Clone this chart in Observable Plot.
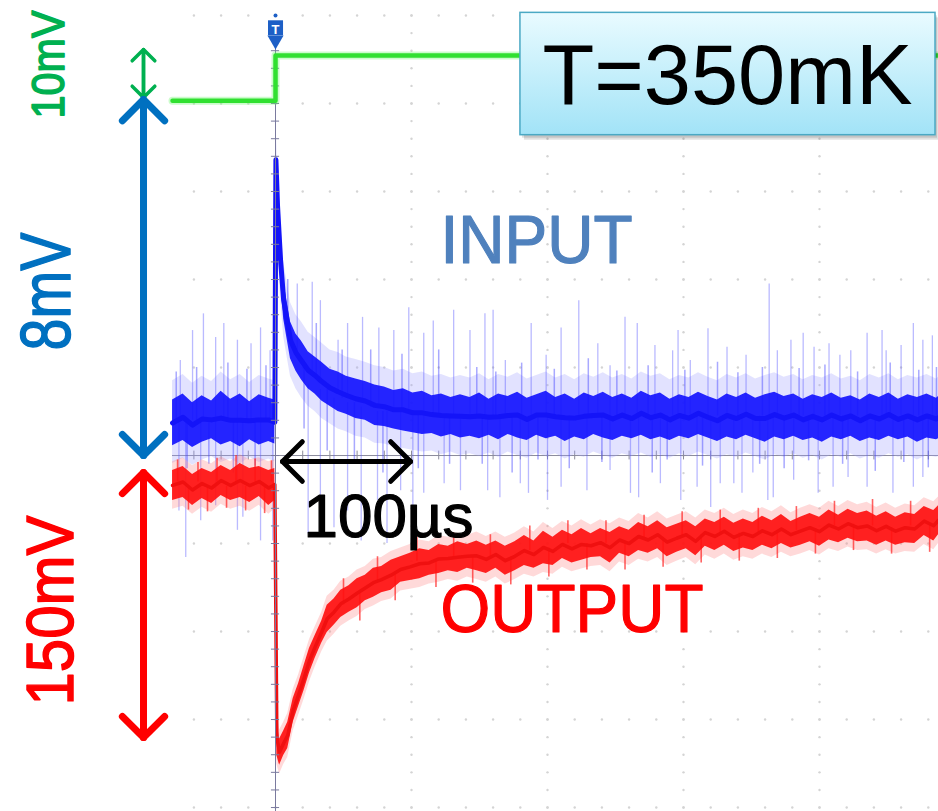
<!DOCTYPE html>
<html><head><meta charset="utf-8">
<script src="https://cdn.jsdelivr.net/npm/d3@7"></script>
<script src="https://cdn.jsdelivr.net/npm/@observablehq/plot@0.6"></script>
<style>html,body{margin:0;padding:0;background:#fff;} svg{display:block;}</style>
</head><body><div id="chart"></div>
<script>
// time in µs (100 µs / div), vertical in screen divisions
const greenT = [-75.74, 0, 0, 487.5];
const greenV = [4.03, 4.03, 4.545, 4.545];

// INPUT trace: [t, core top, core bottom]
const blueTrace = [
[-75.7,0.63,0.11],[-68,0.70,0.17],[-61,0.60,0.09],[-54,0.68,0.15],[-47,0.62,0.19],[-40,0.73,0.12],[-33,0.64,0.16],[-26,0.70,0.10],[-19,0.61,0.18],[-12,0.69,0.12],[-5,0.65,0.16],[-0.5,0.63,0.13],
[0.3,3.6,3.12],[1.5,3.05,2.62],[3.7,2.45,2.0],[6,1.98,1.55],[11,1.52,1.10],[15,1.38,0.96],[19,1.30,0.86],[24,1.18,0.76],[29,1.12,0.70],[34,1.06,0.62],[40,0.98,0.56],[46,0.95,0.50],[52,0.90,0.47],[59,0.87,0.42],[66,0.84,0.40],[73,0.80,0.34],[80,0.78,0.33],[87,0.74,0.30],[94,0.76,0.28],[101,0.71,0.26],[108,0.73,0.24],[115,0.68,0.25],[122,0.70,0.21],[129,0.66,0.24],[136,0.69,0.20],
[143,0.66,0.22],[150,0.71,0.19],[157,0.64,0.23],[164,0.70,0.18],[171,0.67,0.24],[178,0.72,0.20],[185,0.65,0.17],[192,0.69,0.23],[199,0.73,0.19],[206,0.66,0.22],[213,0.70,0.16],[220,0.64,0.21],[227,0.71,0.18],[234,0.67,0.24],[241,0.72,0.20],[248,0.66,0.17],[255,0.70,0.22],[262,0.65,0.19],[269,0.73,0.23],[276,0.68,0.18],[283,0.71,0.21],[290,0.64,0.17],[297,0.69,0.22],[304,0.66,0.19],[311,0.72,0.24],[318,0.67,0.20],[325,0.63,0.16],[332,0.70,0.21],[339,0.66,0.18],[346,0.71,0.23],[353,0.65,0.19],[360,0.69,0.15],[367,0.72,0.21],[374,0.67,0.18],[381,0.70,0.22],[388,0.64,0.17],[395,0.69,0.20],[402,0.66,0.15],[409,0.71,0.21],[416,0.65,0.18],[423,0.68,0.22],[430,0.63,0.16],[437,0.70,0.20],[444,0.66,0.17],[451,0.71,0.22],[458,0.64,0.18],[465,0.69,0.21],[472,0.66,0.15],[479,0.70,0.20],[486,0.65,0.18],[487.5,0.67,0.19]
];

// INPUT noise spikes (long): [t, from, to]
const blueSpikes = [
[-70,0.4,1.08],[-61,0.4,1.42],[-53,0.4,1.61],[-44,0.4,1.34],[-38,0.4,1.50],[-28,0.4,1.31],[-18,0.4,1.27],[-11,0.4,1.45],[-4,0.4,1.19],
[-71,-0.63,0.4],[-66,-1.16,0.4],[-55,-0.74,0.4],[-44,-0.57,0.4],[-28,-0.85,0.4],[-24,-0.70,0.4],[-11,-0.97,0.4],[-2,-0.97,0.4],
[16,1.2,1.95],[27,0.95,1.97],[33,0.85,1.76],[46,0.7,1.31],[53,0.68,1.50],[64,0.62,1.57],[76,0.57,1.45],[87,0.52,1.42],[98,0.5,1.68],[109,0.48,1.39],[116,0.45,1.53],[131,0.45,1.65],[143,0.45,1.42],[154,0.45,1.61],[160,0.45,1.65],[169,0.45,1.08],[188,0.45,1.50],[199,0.45,1.14],[210,0.45,1.45],[223,0.45,1.76],[237,0.45,1.27],[246,0.45,1.02],[257,0.45,1.57],[266,0.45,1.50],[279,0.45,1.25],[292,0.45,1.19],[296,0.45,1.42],[305,0.45,1.08],[318,0.45,1.44],[332,0.45,1.23],[346,0.45,1.14],[363,0.45,1.95],[369,0.45,1.19],[379,0.45,1.31],[388,0.45,1.39],[396,0.45,1.23],[407,0.45,1.27],[415,0.45,1.14],[423,0.45,1.19],[435,0.45,1.39],[446,0.45,1.42],[449,0.45,1.19],[460,0.45,1.25],[469,0.45,1.50],[476,0.45,1.31],[483,0.45,1.36],
[24,-0.89,0.8],[33,-0.70,0.75],[43,-0.82,0.65],[53,-0.63,0.6],[63,-0.97,0.55],[75,-0.51,0.5],[82,-1.00,0.5],[92,-0.40,0.5],[101,-0.93,0.45],[109,-0.43,0.45],[124,-0.32,0.45],[136,-0.40,0.45],[156,-0.40,0.45],[165,-0.48,0.45],[180,-0.32,0.45],[186,-0.43,0.45],[200,-0.51,0.45],[210,-0.36,0.45],[229,-0.40,0.45],[246,-0.17,0.45],[261,-0.43,0.45],[267,-0.48,0.45],[283,-0.32,0.45],[298,-0.51,0.45],[310,-0.36,0.45],[320,-0.59,0.45],[327,-0.32,0.45],[337,-0.32,0.45],[343,-0.43,0.45],[351,-0.20,0.45],[362,-0.51,0.45],[366,-0.48,0.45],[381,-0.28,0.45],[399,-0.43,0.45],[410,-0.36,0.45],[421,-0.25,0.45],[435,-0.36,0.45],[454,-0.43,0.45],[469,-0.36,0.45],[476,-0.25,0.45]
];

// INPUT noise spikes (short): [t, from, to]
const blueShortSpikes = [
[-73,0.4,0.95],[-65,0.4,-0.15],[-58,0.4,1.0],[-49,0.4,-0.1],[-35,0.4,1.05],[-31,0.4,-0.2],[-21,0.4,0.98],[-15,0.4,-0.12],[-7,0.4,1.02],
[9,1.4,2.0],[21,1.0,0.3],[30,0.9,1.5],[38,0.75,0.05],[49,0.65,1.2],[58,0.6,-0.1],[70,0.55,1.2],[79,0.5,-0.2],[93,0.5,1.15],[105,0.48,-0.15],[120,0.45,1.2],[128,0.45,-0.1],
[148,0.45,1.0],[152,0.45,-0.1],[162,0.45,0.95],[174,0.45,-0.2],[181,0.45,1.05],[193,0.45,-0.05],[205,0.45,0.98],[216,0.45,-0.15],[230,0.45,1.1],[240,0.45,-0.08],[251,0.45,0.96],[274,0.45,1.02],[277,0.45,-0.2],[288,0.45,-0.05],[301,0.45,0.97],[314,0.45,-0.12],[325,0.45,1.06],[340,0.45,0.94],[356,0.45,-0.1],[358,0.45,1.0],[374,0.45,-0.15],[385,0.45,0.99],[392,0.45,-0.06],[404,0.45,1.03],[417,0.45,-0.1],[428,0.45,0.95],[441,0.45,-0.18],[452,0.45,1.05],[462,0.45,-0.08],[473,0.45,0.97],[480,0.45,-0.14],[486,0.45,1.0]
];

// OUTPUT trace: [t, core top, core bottom]
const redTrace = [
[-75.7,-0.17,-0.51],[-68,-0.125,-0.477],[-61,-0.216,-0.568],[-54,-0.148,-0.489],[-47,-0.193,-0.545],[-40,-0.114,-0.455],[-33,-0.17,-0.511],[-26,-0.091,-0.477],[-19,-0.148,-0.534],[-12,-0.125,-0.466],[-5,-0.17,-0.568],[-0.5,-0.148,-0.511],
[1,-3.01,-3.41],[3,-3.22,-3.52],[6,-3.13,-3.41],[9,-3.03,-3.33],[13,-2.76,-3.03],[17,-2.59,-2.85],[21,-2.39,-2.67],[25,-2.19,-2.47],[29,-2.05,-2.31],[34,-1.88,-2.13],[38,-1.70,-2.01],[43,-1.63,-1.93],[48,-1.53,-1.84],[54,-1.48,-1.78],[60,-1.40,-1.73],[66,-1.36,-1.65],[72,-1.28,-1.61],[78,-1.26,-1.56],[85,-1.19,-1.53],[92,-1.15,-1.44],[99,-1.11,-1.42],[106,-1.06,-1.40],[113,-1.08,-1.36],[120,-1.01,-1.34],[127,-1.03,-1.31],[134,-0.98,-1.33],[141,-1.01,-1.28],[148,-0.97,-1.31],[155,-1.02,-1.34],[162,-0.97,-1.28],[169,-1.03,-1.36],[176,-0.98,-1.31],[183,-0.91,-1.25],[190,-0.97,-1.28],[197,-0.86,-1.23],[204,-0.93,-1.25],[211,-0.85,-1.17],[218,-0.90,-1.22],[225,-0.83,-1.19],[232,-0.89,-1.16],[239,-0.83,-1.15],[246,-0.875,-1.22],[253,-0.81,-1.11],[260,-0.85,-1.15],[267,-0.76,-1.08],[274,-0.81,-1.11],[281,-0.74,-1.06],[288,-0.82,-1.15],[295,-0.78,-1.10],[302,-0.74,-1.06],[309,-0.81,-1.14],[316,-0.72,-1.03],[323,-0.76,-1.08],[330,-0.70,-1.02],[337,-0.77,-1.09],[344,-0.72,-1.05],[351,-0.76,-1.08],[358,-0.69,-1.02],[365,-0.74,-1.06],[372,-0.67,-1.00],[379,-0.75,-1.05],[386,-0.70,-1.02],[393,-0.66,-0.98],[400,-0.70,-1.03],[407,-0.62,-0.96],[414,-0.68,-0.99],[421,-0.61,-0.94],[428,-0.66,-0.98],[435,-0.63,-0.97],[442,-0.69,-1.02],[449,-0.64,-0.97],[456,-0.70,-1.02],[463,-0.65,-0.99],[470,-0.67,-1.00],[477,-0.58,-0.91],[484,-0.625,-0.97],[487.5,-0.57,-0.90]
];

// OUTPUT noise spikes: [t, from, to]
const redSpikes = [
[-72,-0.3,-0.05],[-64,-0.35,-0.62],[-57,-0.3,-0.08],[-50,-0.35,-0.64],[-43,-0.3,-0.03],[-36,-0.35,-0.6],[-29,-0.3,0.0],[-22,-0.35,-0.63],[-15,-0.3,-0.04],[-8,-0.35,-0.66],[-3,-0.3,-0.06],
[50,-1.7,-1.4],[62,-1.55,-1.88],[75,-1.42,-1.15],[88,-1.35,-1.65],
[104,-1.2,-0.93],[118,-1.2,-1.5],[131,-1.15,-0.88],[145,-1.15,-1.45],[158,-1.15,-0.9],[173,-1.15,-1.47],[187,-1.08,-0.8],[201,-1.05,-1.38],[215,-1.0,-0.74],[229,-1.0,-1.3],[243,-1.0,-0.74],[257,-0.97,-1.3],[271,-0.95,-0.68],[285,-0.93,-1.27],[299,-0.92,-0.64],[313,-0.9,-1.22],[327,-0.9,-0.62],[341,-0.88,-1.2],[355,-0.88,-0.6],[369,-0.86,-1.17],[383,-0.85,-0.58],[397,-0.83,-1.12],[411,-0.8,-0.52],[425,-0.78,-1.08],[439,-0.8,-0.5],[453,-0.82,-1.12],[467,-0.8,-0.52],[481,-0.78,-1.1]
];

const gridT = [100, 200, 300, 400];
const gridV = [-4, -3, -2, -1, 1, 2, 3, 4, 5];

// annotation labels
const labels = {ten: "10mV", eight: "8mV", oneFifty: "150mV", input: "INPUT", output: "OUTPUT", time: "100µs", temp: "T=350mK"};

const font = "'Liberation Sans', Arial, Helvetica, sans-serif";
const narrow = "'Liberation Sans Narrow', 'Arial Narrow', 'Liberation Sans', Arial, sans-serif";
const row = d => ({t: d[0], hi: d[1], lo: d[2], mid: (d[1] + d[2]) / 2});
const blueData = blueTrace.map(row);
const redData = redTrace.map(row);
const toRule = d => ({t: d[0], a: d[1], b: d[2]});
const spikeData = blueSpikes.map(toRule);
const shortSpikeData = blueShortSpikes.map(toRule);
const redSpikeData = redSpikes.map(toRule);
const greenData = greenT.map((t, i) => ({t, v: greenV[i]}));

const minorV = d3.range(-4, 5.01, 0.2).map(v => +v.toFixed(2));
const minorT = d3.range(-60, 488, 20);
const gridDots = [
  ...d3.cross(gridT, minorV).map(([t, v]) => ({t, v})),
  ...d3.cross(minorT, gridV).map(([t, v]) => ({t, v}))
];
const axisTicksV = minorV.filter(v => v <= 4.6);
const axisTicksT = minorT;

const chart = Plot.plot({
  width: 938, height: 811,
  marginLeft: 172, marginRight: 0, marginTop: 0, marginBottom: 0,
  x: {domain: [-75.74, 487.5], axis: null},
  y: {domain: [-4.045, 5.1705], axis: null},
  style: {background: "white", overflow: "visible"},
  marks: [
    Plot.dot(gridDots, {x: "t", y: "v", r: 1.2, fill: "#d4d4d4", stroke: null}),
    Plot.ruleY([0], {stroke: "#8c8c9c", strokeWidth: 1}),
    Plot.ruleX(axisTicksT, {x: d => d, y1: -0.05, y2: 0.05, stroke: "#8c8c9c"}),
    // INPUT haze & spikes
    Plot.areaY(blueData, {x: "t", y1: d => d.lo - 0.2, y2: d => d.hi + 0.22, fill: "#a0a0ff", fillOpacity: 0.3}),
    Plot.ruleX(spikeData, {x: "t", y1: "a", y2: "b", stroke: "#5a5aff", strokeOpacity: 0.42, strokeWidth: 1.3}),
    Plot.ruleX(shortSpikeData, {x: "t", y1: "a", y2: "b", stroke: "#4040ff", strokeOpacity: 0.45, strokeWidth: 1.5}),
    // OUTPUT
    Plot.areaY(redData, {x: "t", y1: d => d.lo - 0.1, y2: d => d.hi + 0.1, fill: "#ff8080", fillOpacity: 0.3}),
    Plot.ruleX(redSpikeData, {x: "t", y1: "a", y2: "b", stroke: "#ff2020", strokeOpacity: 0.7, strokeWidth: 1.6}),
    Plot.areaY(redData, {x: "t", y1: "lo", y2: "hi", fill: "#ff1010", fillOpacity: 0.92}),
    Plot.line(redData, {x: "t", y: "mid", stroke: "#f01010", strokeWidth: 3.5}),
    // INPUT core
    Plot.areaY(blueData, {x: "t", y1: "lo", y2: "hi", fill: "#1414ff", fillOpacity: 0.92}),
    Plot.line(blueData, {x: "t", y: "mid", stroke: "#1414f8", strokeWidth: 5}),
    // trigger / centre axis
    Plot.ruleX([0], {y1: -4.045, y2: 4.65, stroke: "#7a7a9e", strokeWidth: 1}),
    Plot.ruleY(axisTicksV, {y: d => d, x1: -3, x2: 3, stroke: "#7a7a9e"}),
    // GREEN
    Plot.line(greenData, {x: "t", y: "v", stroke: "#6af56a", strokeWidth: 8, strokeOpacity: 0.35}),
    Plot.line(greenData, {x: "t", y: "v", stroke: "#30e030", strokeWidth: 4.5}),
    // trigger badge
    Plot.dot([0], {x: 0, y: 4.72, symbol: "triangle", rotate: 180, r: 6, fill: "#1d5fc6"}),
    Plot.dot([0], {x: 0, y: 4.86, symbol: "square", r: 8.5, fill: "#1d5fc6"}),
    Plot.dot([0], {x: 0, y: 5.0, r: 2, fill: "#1d5fc6"}),
    Plot.text(["T"], {x: 0, y: 4.84, text: d => d, fill: "white", fontSize: 13, fontWeight: "bold", fontFamily: font}),
    // T=350mK box
    Plot.rect([0], {x1: 180.1, x2: 485.3, y1: 3.64, y2: 5.03, fill: "#000", fillOpacity: 0.12, dx: 4, dy: 5}),
    Plot.rect([0], {x1: 180.1, x2: 485.3, y1: 3.64, y2: 5.03, fill: "#000", fillOpacity: 0.12, dx: 2, dy: 3}),
    Plot.rect([0], {x1: 180.1, x2: 485.3, y1: 3.64, y2: 5.03, fill: "url(#boxGrad)", stroke: "#4aa9c4", strokeWidth: 1.5}),
    Plot.text([labels.temp], {x: 196.3, y: 4.0, text: d => d, textAnchor: "start", lineAnchor: "bottom", fontSize: 85, fill: "#000", fontFamily: font}),
    // arrows on the left
    Plot.arrow([0], {x1: -97.06, x2: -97.06, y1: 4.068, y2: 4.614, stroke: "#00b050", strokeWidth: 3.5, headAngle: 90, headLength: 7.7}),
    Plot.arrow([0], {x1: -97.06, x2: -97.06, y1: 4.614, y2: 4.068, stroke: "#00b050", strokeWidth: 3.5, headAngle: 90, headLength: 7.7}),
    Plot.arrow([0], {x1: -97.06, x2: -97.06, y1: 0, y2: 4.045, stroke: "#0070c0", strokeWidth: 7, headAngle: 90, headLength: 6.4}),
    Plot.arrow([0], {x1: -97.06, x2: -97.06, y1: 4.045, y2: 0, stroke: "#0070c0", strokeWidth: 7, headAngle: 90, headLength: 6.4}),
    Plot.arrow([0], {x1: -97.06, x2: -97.06, y1: -0.193, y2: -3.205, stroke: "#ff0000", strokeWidth: 7, headAngle: 90, headLength: 6.4}),
    Plot.arrow([0], {x1: -97.06, x2: -97.06, y1: -3.205, y2: -0.193, stroke: "#ff0000", strokeWidth: 7, headAngle: 90, headLength: 6.4}),
    // 100 µs arrow
    Plot.arrow([0], {x1: 5.15, x2: 99.26, y1: -0.068, y2: -0.068, stroke: "#000", strokeWidth: 5, headAngle: 90, headLength: 8.4}),
    Plot.arrow([0], {x1: 99.26, x2: 5.15, y1: -0.068, y2: -0.068, stroke: "#000", strokeWidth: 5, headAngle: 90, headLength: 8.4}),
    // labels
    Plot.text([labels.ten], {x: -166.2, y: 4.443, text: d => d, rotate: -90, fontSize: 46, fill: "#00b050", stroke: "#00b050", strokeWidth: 1.5, fontFamily: narrow}),
    Plot.text([labels.eight], {x: -167.6, y: 1.864, text: d => d, rotate: -90, fontSize: 70, fill: "#0070c0", stroke: "#0070c0", strokeWidth: 1.5, fontFamily: narrow}),
    Plot.text([labels.oneFifty], {x: -164.7, y: -1.761, text: d => d, rotate: -90, fontSize: 67, fill: "#ff0000", stroke: "#ff0000", strokeWidth: 1.5, fontFamily: narrow}),
    Plot.text([labels.input], {x: 121.3, y: 2.19, text: d => d, textAnchor: "start", lineAnchor: "bottom", fontSize: 68, fill: "#4f81bd", stroke: "#4f81bd", strokeWidth: 1.2, fontFamily: font}),
    Plot.text([labels.output], {x: 121.3, y: -2.01, text: d => d, textAnchor: "start", lineAnchor: "bottom", fontSize: 68, fill: "#ff0000", stroke: "#ff0000", strokeWidth: 1.2, fontFamily: font}),
    Plot.text([labels.time], {x: 20.6, y: -0.93, text: d => d, textAnchor: "start", lineAnchor: "bottom", fontSize: 62, fill: "#000", stroke: "#000", strokeWidth: 1.2, fontFamily: font})
  ]
});

// gradient for the temperature box
const svg = d3.select(chart);
const defs = svg.insert("defs", ":first-child");
const g = defs.append("linearGradient").attr("id", "boxGrad").attr("x1", 0).attr("y1", 0).attr("x2", 0).attr("y2", 1);
g.append("stop").attr("offset", "0%").attr("stop-color", "#e9fbff");
g.append("stop").attr("offset", "100%").attr("stop-color", "#a2e3f7");

// fit label widths to the reference
const fitWidths = {"10mV": 108, "8mV": 118, "150mV": 190, "INPUT": 192, "OUTPUT": 263, "100µs": 170, "T=350mK": 370};
svg.selectAll("text").each(function() {
  const w = fitWidths[this.textContent];
  if (w) d3.select(this).attr("textLength", w).attr("lengthAdjust", "spacingAndGlyphs");
});

document.getElementById("chart").appendChild(chart);
</script></body></html>
